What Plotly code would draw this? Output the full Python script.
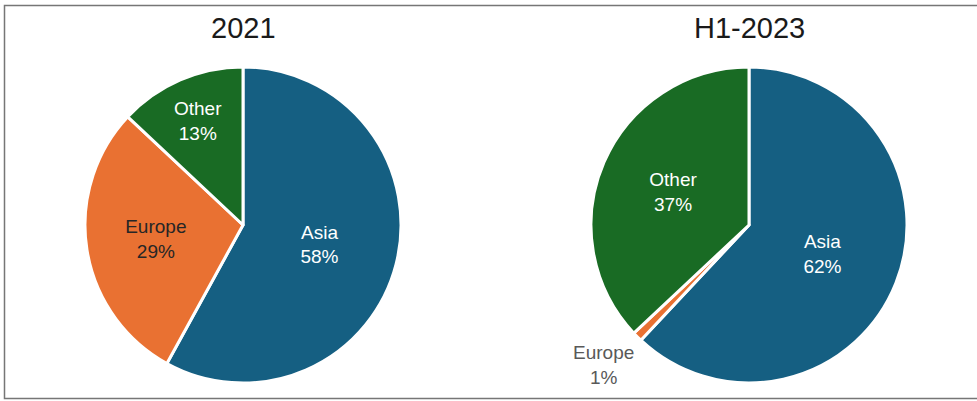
import plotly.graph_objects as go

W, H = 977, 401
regions = ["Asia", "Europe", "Other"]
values_2021 = [58, 29, 13]
values_h1_2023 = [62, 1, 37]
titles = ["2021", "H1-2023"]
colors = ["#155f82", "#e97132", "#196b24"]

def px_x(v):
    return v / W

def px_y(v):
    return 1 - v / H

r = 158
cy = 225
centers = [243, 749]
FONT = "Liberation Sans, Arial"

fig = go.Figure()

def texts(vals):
    return [f"{l}<br>{v}%" for l, v in zip(regions, vals)]

fig.add_trace(go.Pie(
    labels=regions, values=values_2021, sort=False, direction="clockwise", rotation=0,
    marker=dict(colors=colors, line=dict(color="white", width=3)),
    text=texts(values_2021), textinfo="text", textposition="inside",
    insidetextorientation="horizontal",
    insidetextfont=dict(color=["white", "#262626", "white"], size=19, family=FONT),
    domain=dict(x=[px_x(centers[0] - r), px_x(centers[0] + r)], y=[px_y(cy + r), px_y(cy - r)]),
    showlegend=False,
))

fig.add_trace(go.Pie(
    labels=regions, values=values_h1_2023, sort=False, direction="clockwise", rotation=0,
    marker=dict(colors=colors, line=dict(color="white", width=3)),
    text=[texts(values_h1_2023)[0], "", texts(values_h1_2023)[2]], textinfo="text",
    textposition=["inside", "none", "inside"],
    insidetextorientation="horizontal",
    insidetextfont=dict(color="white", size=19, family=FONT),
    domain=dict(x=[px_x(centers[1] - r), px_x(centers[1] + r)], y=[px_y(cy + r), px_y(cy - r)]),
    showlegend=False,
))

# outside label for the small Europe slice
fig.add_annotation(x=px_x(603), y=px_y(365), xref="paper", yref="paper",
                   xanchor="center", yanchor="middle",
                   text=f"{regions[1]}<br>{values_h1_2023[1]}%", showarrow=False,
                   font=dict(size=19, color="#595959", family=FONT))

for t, c in zip(titles, centers):
    fig.add_annotation(x=px_x(c), y=px_y(28), xref="paper", yref="paper", text=t,
                       xanchor="center", yanchor="middle",
                       showarrow=False, font=dict(size=29, color="#1a1a1a", family=FONT))

fig.add_shape(type="rect", xref="paper", yref="paper", x0=px_x(4.5), x1=px_x(990), y0=px_y(398.5), y1=px_y(5.5),
              line=dict(color="#767676", width=1.5))

fig.update_layout(width=W, height=H, margin=dict(l=0, r=0, t=0, b=0),
                  paper_bgcolor="white", plot_bgcolor="white",
                  font=dict(family=FONT))

fig.write_html("out.html", config={"displayModeBar": False},
               post_script="document.body.style.margin='0';document.body.style.overflow='hidden';")
